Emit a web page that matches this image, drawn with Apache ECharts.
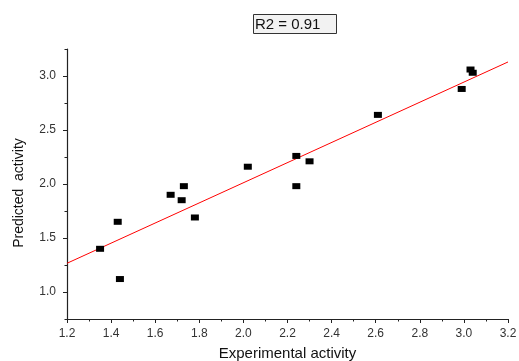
<!DOCTYPE html>
<html>
<head>
<meta charset="utf-8">
<script src="https://cdn.jsdelivr.net/npm/echarts@6/dist/echarts.min.js"></script>
<style>
  html, body { margin: 0; padding: 0; background: #fff; }
  #chart { width: 519px; height: 361px; }
</style>
</head>
<body>
<div id="chart"></div>
<script>
// experimental vs predicted activity
const experimental = [1.35, 1.43, 1.44, 1.67, 1.72, 1.73, 1.78, 2.02, 2.24, 2.24, 2.30, 2.61, 2.99, 3.03, 3.04];
const predicted = [1.40, 1.65, 1.12, 1.90, 1.85, 1.98, 1.69, 2.16, 2.26, 1.98, 2.21, 2.64, 2.88, 3.06, 3.03];

// ends of the fitted line
const fitX = [1.2, 3.2];
const fitY = [1.266, 3.13];

const yLabelTicks = [1.0, 1.5, 2.0, 2.5, 3.0];
const titleText = "R2 = 0.91";

const points = experimental.map((x, i) => [x, predicted[i]]);
const fitLine = fitX.map((x, i) => [x, fitY[i]]);

const font = "'Liberation Sans', Arial, sans-serif";
const axisColor = "#222";

const chart = echarts.init(document.getElementById("chart"));

chart.setOption({
  animation: false,
  title: {
    text: titleText,
    left: 253,
    top: 14,
    padding: [3, 16, 2, 2],
    backgroundColor: "#f2f2f2",
    borderColor: "#333",
    borderWidth: 1,
    textStyle: { fontFamily: font, fontSize: 15, fontWeight: "normal", color: "#111" },
  },
  grid: { left: 67, top: 49, right: 11, bottom: 42, outerBoundsMode: "none" },
  xAxis: {
    type: "value",
    min: 1.2,
    max: 3.2,
    interval: 0.2,
    name: "Experimental activity",
    nameLocation: "middle",
    nameGap: 27,
    nameTextStyle: { fontFamily: font, fontSize: 15, color: "#111" },
    axisLine: { show: true, lineStyle: { color: axisColor, width: 1.2 } },
    axisTick: { show: true, length: 4, lineStyle: { color: axisColor } },
    minorTick: { show: true, splitNumber: 2, length: 2.5, lineStyle: { color: axisColor } },
    axisLabel: {
      margin: 9,
      fontFamily: font,
      fontSize: 12,
      color: "#333",
      formatter: (v) => v.toFixed(1),
    },
    splitLine: { show: false },
  },
  yAxis: [
    {
      type: "value",
      min: 0.75,
      max: 3.25,
      interval: 0.25,
      name: "Predicted  activity",
      nameLocation: "middle",
      nameGap: 41,
      nameTextStyle: { fontFamily: font, fontSize: 14, color: "#111", padding: [0, 18, 0, 0] },
      axisLine: { show: true, lineStyle: { color: axisColor, width: 1.2 } },
      axisTick: { show: true, length: 4, customValues: yLabelTicks, lineStyle: { color: axisColor } },
      axisLabel: {
        margin: 11,
        fontFamily: font,
        fontSize: 12,
        color: "#333",
        customValues: yLabelTicks,
        formatter: (v) => v.toFixed(1),
      },
      splitLine: { show: false },
    },
    {
      // minor ticks every 0.25
      type: "value",
      position: "left",
      min: 0.75,
      max: 3.25,
      interval: 0.25,
      axisLine: { show: false },
      axisTick: { show: true, length: 2.5, lineStyle: { color: axisColor } },
      axisLabel: { show: false },
      splitLine: { show: false },
    },
  ],
  series: [
    {
      type: "line",
      data: fitLine,
      symbol: "none",
      lineStyle: { color: "#ff0000", width: 1 },
      z: 2,
    },
    {
      type: "scatter",
      data: points,
      symbol: "rect",
      symbolSize: [8, 6],
      itemStyle: { color: "#000", opacity: 1 },
      z: 3,
    },
  ],
});
</script>
</body>
</html>
